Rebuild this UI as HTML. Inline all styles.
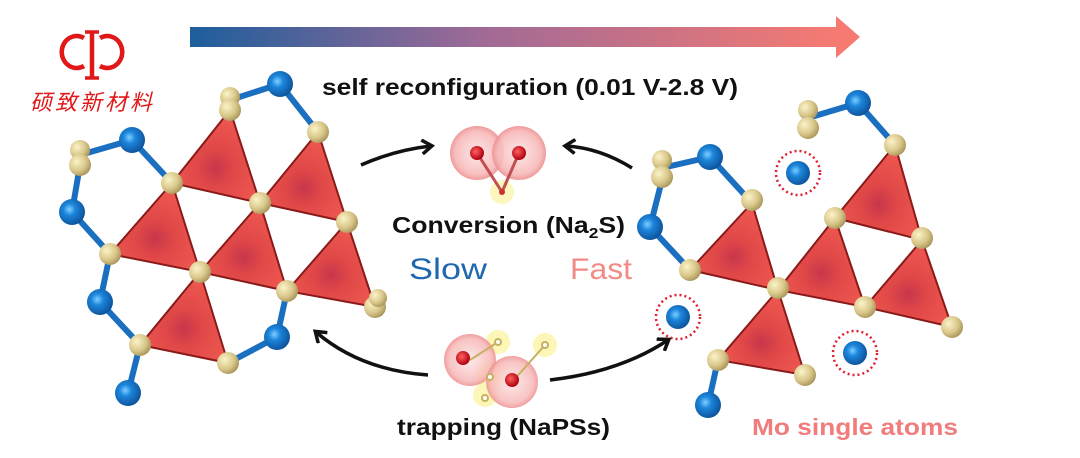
<!DOCTYPE html>
<html><head><meta charset="utf-8"><style>
html,body{margin:0;padding:0;background:#fff;}
svg{display:block}
text{font-family:"Liberation Sans","Noto Sans CJK SC",sans-serif;}
</style></head><body>
<svg width="1080" height="458" viewBox="0 0 1080 458" xmlns="http://www.w3.org/2000/svg">
<defs>
<linearGradient id="bar" x1="0" x2="1" y1="0" y2="0">
<stop offset="0" stop-color="#1d5e9c"/><stop offset="0.45" stop-color="#a06a96"/><stop offset="1" stop-color="#f67a72"/>
</linearGradient>
<radialGradient id="tan" cx="0.35" cy="0.35" r="0.7"><stop offset="0" stop-color="#fbf3c8"/><stop offset="0.6" stop-color="#d9c78a"/><stop offset="1" stop-color="#a8945a"/></radialGradient>
<radialGradient id="blue" cx="0.4" cy="0.4" r="0.65"><stop offset="0" stop-color="#7fd0ff"/><stop offset="0.35" stop-color="#1c86dc"/><stop offset="1" stop-color="#0c4f96"/></radialGradient>
<radialGradient id="tri" cx="0.5" cy="0.62" r="0.6"><stop offset="0" stop-color="#c8364a"/><stop offset="0.35" stop-color="#e04848"/><stop offset="1" stop-color="#f05a50"/></radialGradient>
<radialGradient id="pink" cx="0.5" cy="0.5" r="0.5"><stop offset="0" stop-color="#fde6e6"/><stop offset="0.8" stop-color="#f7b8b8"/><stop offset="1" stop-color="#ee9090"/></radialGradient>
<radialGradient id="red" cx="0.4" cy="0.4" r="0.6"><stop offset="0" stop-color="#ff6060"/><stop offset="1" stop-color="#b00010"/></radialGradient>
<marker id="ah" markerWidth="14" markerHeight="16" refX="10" refY="8" orient="auto" markerUnits="userSpaceOnUse"><path d="M1,1 L11,8 L1,15" fill="none" stroke="#111" stroke-width="3.5"/></marker>
</defs>

<!-- logo -->
<g fill="none" stroke="#e01818" stroke-width="4.5">
<path d="M84,38 A15,16 0 1 0 84,66"/><path d="M100,38 A15,16 0 1 1 100,66"/>
<line x1="92" y1="32" x2="92" y2="78"/><line x1="85" y1="32" x2="99" y2="32" stroke-width="3.5"/><line x1="85" y1="78" x2="99" y2="78" stroke-width="3.5"/>
</g>
<text x="30" y="110" font-size="22" fill="#e01818" font-style="italic" textLength="122" font-family="'Noto Serif CJK SC',serif">硕致新材料</text>

<!-- top bar -->
<rect x="190" y="27" width="648" height="20" fill="url(#bar)"/>
<polygon points="836,16 860,37 836,58" fill="#f67a72"/>
<text x="322" y="95" font-size="23" font-weight="bold" fill="#111" textLength="416" lengthAdjust="spacingAndGlyphs">self reconfiguration (0.01 V-2.8 V)</text>

<!-- left structure bonds -->
<g stroke="#1b6fc0" stroke-width="6">
<line x1="230" y1="100" x2="280" y2="84"/><line x1="280" y1="84" x2="318" y2="132"/>
<line x1="80" y1="155" x2="132" y2="140"/><line x1="132" y1="140" x2="172" y2="183"/>
<line x1="80" y1="165" x2="72" y2="212"/><line x1="72" y1="212" x2="110" y2="254"/>
<line x1="110" y1="254" x2="100" y2="302"/><line x1="100" y1="302" x2="140" y2="345"/>
<line x1="287" y1="291" x2="277" y2="337"/><line x1="277" y1="337" x2="228" y2="363"/>
<line x1="140" y1="345" x2="128" y2="393"/>
</g>
<g fill="url(#tri)" stroke="#8a1a1a" stroke-width="2">
<polygon points="230,110 172,183 260,203"/><polygon points="318,132 260,203 347,222"/>
<polygon points="172,183 110,254 200,272"/><polygon points="260,203 200,272 287,291"/>
<polygon points="347,222 287,291 375,307"/><polygon points="200,272 140,345 228,363"/>
</g>
<g fill="url(#tan)">
<circle cx="230" cy="97" r="10"/><circle cx="230" cy="110" r="11"/><circle cx="318" cy="132" r="11"/>
<circle cx="80" cy="150" r="10"/><circle cx="80" cy="165" r="11"/><circle cx="172" cy="183" r="11"/>
<circle cx="260" cy="203" r="11"/><circle cx="347" cy="222" r="11"/><circle cx="110" cy="254" r="11"/>
<circle cx="200" cy="272" r="11"/><circle cx="287" cy="291" r="11"/><circle cx="375" cy="307" r="11"/>
<circle cx="378" cy="298" r="9"/><circle cx="140" cy="345" r="11"/><circle cx="228" cy="363" r="11"/>
</g>
<g fill="url(#blue)">
<circle cx="280" cy="84" r="13"/><circle cx="132" cy="140" r="13"/><circle cx="72" cy="212" r="13"/>
<circle cx="100" cy="302" r="13"/><circle cx="277" cy="337" r="13"/><circle cx="128" cy="393" r="13"/>
</g>

<!-- right structure -->
<g stroke="#1b6fc0" stroke-width="6">
<line x1="808" y1="118" x2="858" y2="103"/><line x1="858" y1="103" x2="895" y2="145"/>
<line x1="662" y1="168" x2="710" y2="157"/><line x1="710" y1="157" x2="752" y2="203"/>
<line x1="662" y1="180" x2="650" y2="227"/><line x1="650" y1="227" x2="690" y2="270"/>
<line x1="718" y1="360" x2="708" y2="405"/>
</g>
<g fill="url(#tri)" stroke="#8a1a1a" stroke-width="2">
<polygon points="895,145 835,218 922,240"/><polygon points="752,203 690,270 778,290"/>
<polygon points="835,218 778,290 865,307"/><polygon points="922,240 865,307 952,327"/>
<polygon points="778,290 718,360 805,375"/>
</g>
<g fill="url(#tan)">
<circle cx="808" cy="110" r="10"/><circle cx="808" cy="128" r="11"/><circle cx="895" cy="145" r="11"/>
<circle cx="662" cy="160" r="10"/><circle cx="662" cy="177" r="11"/><circle cx="752" cy="200" r="11"/>
<circle cx="835" cy="218" r="11"/><circle cx="922" cy="238" r="11"/><circle cx="690" cy="270" r="11"/>
<circle cx="778" cy="288" r="11"/><circle cx="865" cy="307" r="11"/><circle cx="952" cy="327" r="11"/>
<circle cx="718" cy="360" r="11"/><circle cx="805" cy="375" r="11"/>
</g>
<g fill="url(#blue)">
<circle cx="858" cy="103" r="13"/><circle cx="710" cy="157" r="13"/><circle cx="650" cy="227" r="13"/>
<circle cx="708" cy="405" r="13"/>
<circle cx="798" cy="173" r="12"/><circle cx="678" cy="317" r="12"/><circle cx="855" cy="353" r="12"/>
</g>
<g fill="none" stroke="#e02030" stroke-width="2.5" stroke-dasharray="2 3">
<circle cx="798" cy="173" r="22"/><circle cx="678" cy="317" r="22"/><circle cx="855" cy="353" r="22"/>
</g>

<!-- center molecules -->
<circle cx="502" cy="192" r="12" fill="#fbf3a0" opacity="0.7"/>
<circle cx="477" cy="153" r="27" fill="url(#pink)" opacity="0.9"/>
<circle cx="519" cy="153" r="27" fill="url(#pink)" opacity="0.9"/>
<g stroke="#c05050" stroke-width="3"><line x1="477" y1="153" x2="502" y2="192"/><line x1="519" y1="153" x2="502" y2="192"/></g>
<circle cx="477" cy="153" r="7" fill="url(#red)"/><circle cx="519" cy="153" r="7" fill="url(#red)"/>
<circle cx="502" cy="192" r="3" fill="#d03030"/>

<g fill="#fbf3a0" opacity="0.75">
<circle cx="498" cy="342" r="12"/><circle cx="545" cy="345" r="12"/><circle cx="490" cy="375" r="14"/><circle cx="485" cy="395" r="12"/>
</g>
<circle cx="470" cy="360" r="26" fill="url(#pink)" opacity="0.85"/>
<circle cx="512" cy="382" r="26" fill="url(#pink)" opacity="0.85"/>
<g stroke="#c8b060" stroke-width="2" fill="#fff"><line x1="470" y1="360" x2="498" y2="342"/><line x1="512" y1="382" x2="545" y2="345"/>
<circle cx="498" cy="342" r="3"/><circle cx="545" cy="345" r="3"/><circle cx="490" cy="377" r="3"/><circle cx="485" cy="398" r="3"/></g>
<circle cx="463" cy="358" r="7" fill="url(#red)"/><circle cx="512" cy="380" r="7" fill="url(#red)"/>

<text x="392" y="233" font-size="23" font-weight="bold" fill="#111" textLength="233" lengthAdjust="spacingAndGlyphs">Conversion (Na<tspan font-size="15" dy="5">2</tspan><tspan dy="-5">S)</tspan></text>
<text x="409" y="279" font-size="30" fill="#1f68b0" textLength="78" lengthAdjust="spacingAndGlyphs">Slow</text>
<text x="570" y="279" font-size="30" fill="#f28a86" textLength="62" lengthAdjust="spacingAndGlyphs">Fast</text>
<text x="397" y="435" font-size="23" font-weight="bold" fill="#111" textLength="213" lengthAdjust="spacingAndGlyphs">trapping (NaPSs)</text>
<text x="752" y="435" font-size="23" font-weight="bold" fill="#f07c7c" textLength="206" lengthAdjust="spacingAndGlyphs">Mo single atoms</text>

<!-- arrows -->
<g fill="none" stroke="#111" stroke-width="3.5" marker-end="url(#ah)">
<path d="M361,165 Q395,150 431,146"/>
<path d="M632,168 Q600,148 566,146"/>
<path d="M428,375 Q360,370 316,332"/>
<path d="M550,380 Q620,372 668,340"/>
</g>
</svg>
</body></html>
